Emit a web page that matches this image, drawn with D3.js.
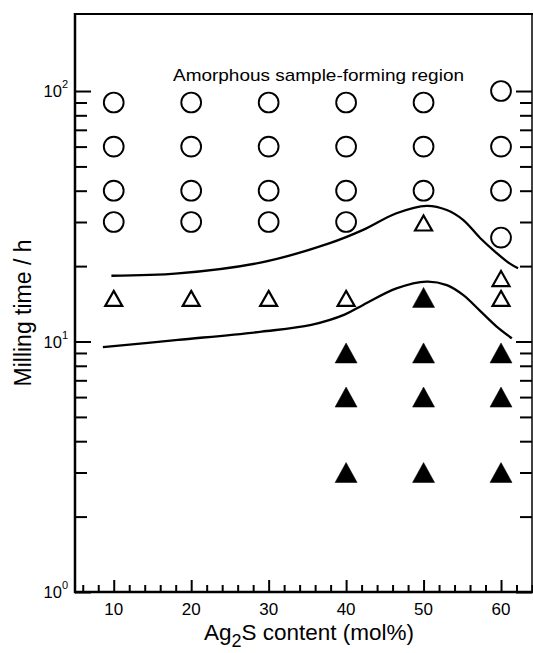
<!DOCTYPE html>
<html><head><meta charset="utf-8">
<script src="https://cdn.jsdelivr.net/npm/d3@7"></script>
<style>body{margin:0;background:#fff}text{font-family:"Liberation Sans",Arial,Helvetica,sans-serif;fill:#000}</style>
</head><body>
<svg id="chart" width="533" height="653"></svg>
<script>
// ---- data ----
const xTickValues = [10, 20, 30, 40, 50, 60];
const yDecades = [1, 10, 100];
const yDecadeExponents = ["0", "1", "2"];
const amorphous = [
  [10,90],[10,60],[10,40],[10,30],
  [20,90],[20,60],[20,40],[20,30],
  [30,90],[30,60],[30,40],[30,30],
  [40,90],[40,60],[40,40],[40,30],
  [50,90],[50,60],[50,40],
  [60,100],[60,60],[60,40],[60,26]
];
const partial = [[10,15],[20,15],[30,15],[40,15],[50,30],[60,18],[60,15]];
const crystalline = [[40,9],[40,6],[40,3],[50,15],[50,9],[50,6],[50,3],[60,9],[60,6],[60,3]];
const upperBoundary = [[9.7,18.3],[18.3,18.7],[29.1,20.7],[37.9,24.7],[42.2,27.9],[46.5,32.5],[50.4,34.8],[53.0,33.5],[55.1,30.6],[57.3,25.9],[59.4,22.6],[61.1,20.5],[62.2,19.6]];
const lowerBoundary = [[8.6,9.5],[18.3,10.15],[29.1,10.95],[35.5,11.65],[39.8,12.8],[42.2,14.0],[46.5,16.3],[50.4,17.35],[53.0,16.8],[55.1,15.35],[57.3,13.25],[59.4,11.5],[61.4,10.3]];
const regionLabel = "Amorphous sample-forming region";
const xLabelParts = ["Ag", "2", "S content (mol%)"];
const yLabel = "Milling time / h";

// ---- layout ----
const L = 75, R = 532, T = 14, B = 592;
const svg = d3.select("#chart");
const x = d3.scaleLinear().domain([5, 64]).range([L, R]);
const y = d3.scaleLog().domain([1, 203]).range([B, T]);

// minor ticks
const xMinor = d3.range(6, 64.01, 2).filter(v => v % 10 !== 0);
const yMinor = [];
[1, 10].forEach(d => { for (let k = 2; k <= 9; k++) yMinor.push(d * k); });

function styleAxis(g) {
  g.select(".domain").remove();
  g.selectAll(".tick line").attr("stroke", "#000").attr("stroke-width", 2);
  g.selectAll(".tick text").remove();
}
// bottom (ticks up)
svg.append("g").attr("transform", `translate(0,${B})`)
  .call(d3.axisTop(x).tickValues(xTickValues).tickSize(12).tickFormat("")).call(styleAxis);
svg.append("g").attr("transform", `translate(0,${B})`)
  .call(d3.axisTop(x).tickValues(xMinor).tickSize(7).tickFormat("")).call(styleAxis);
// left (ticks right)
svg.append("g").attr("transform", `translate(${L},0)`)
  .call(d3.axisRight(y).tickValues(yDecades).tickSize(16).tickFormat("")).call(styleAxis);
svg.append("g").attr("transform", `translate(${L},0)`)
  .call(d3.axisRight(y).tickValues(yMinor).tickSize(12).tickFormat("")).call(styleAxis);
// right (ticks left)
svg.append("g").attr("transform", `translate(${R},0)`)
  .call(d3.axisLeft(y).tickValues(yDecades).tickSize(16).tickFormat("")).call(styleAxis);
svg.append("g").attr("transform", `translate(${R},0)`)
  .call(d3.axisLeft(y).tickValues(yMinor).tickSize(12).tickFormat("")).call(styleAxis);

// frame
svg.append("line").attr("x1", L).attr("x2", L).attr("y1", T - 1).attr("y2", B + 1.25).attr("stroke", "#000").attr("stroke-width", 2.5);
svg.append("line").attr("x1", L).attr("x2", R + 1).attr("y1", B).attr("y2", B).attr("stroke", "#000").attr("stroke-width", 2.5);
svg.append("line").attr("x1", L).attr("x2", R + 1).attr("y1", T).attr("y2", T).attr("stroke", "#000").attr("stroke-width", 2.2);
svg.append("line").attr("x1", R).attr("x2", R).attr("y1", T).attr("y2", B).attr("stroke", "#000").attr("stroke-width", 1.5);

// x tick labels
svg.append("g").selectAll("text").data(xTickValues).join("text")
  .attr("x", d => x(d)).attr("y", 615).attr("text-anchor", "middle")
  .attr("font-size", 17).text(d => d);

// y tick labels
const yl = svg.append("g").selectAll("text").data(yDecades).join("text")
  .attr("x", 68).attr("y", d => y(d) + 6).attr("text-anchor", "end").attr("font-size", 16.5);
yl.append("tspan").text("10");
yl.append("tspan").attr("dy", -9).attr("font-size", 11).text((d, i) => yDecadeExponents[i]);

// axis titles
const xt = svg.append("text").attr("x", 309).attr("y", 640).attr("text-anchor", "middle").attr("font-size", 22.5);
xt.append("tspan").text(xLabelParts[0]);
xt.append("tspan").attr("dy", 7).attr("font-size", 18).text(xLabelParts[1]);
xt.append("tspan").attr("dy", -7).text(xLabelParts[2]);

svg.append("text").attr("transform", "translate(31,313) rotate(-90)")
  .attr("text-anchor", "middle").attr("font-size", 23).text(yLabel);

// region label
svg.append("text").attr("x", 173).attr("y", 81).attr("font-size", 17)
  .attr("textLength", 291).attr("lengthAdjust", "spacingAndGlyphs").text(regionLabel);

// boundary curves
const line = d3.line().x(d => x(d[0])).y(d => y(d[1])).curve(d3.curveCatmullRom.alpha(0.5));
[upperBoundary, lowerBoundary].forEach(b => {
  svg.append("path").attr("d", line(b)).attr("fill", "none").attr("stroke", "#000").attr("stroke-width", 2.3);
});

// markers
svg.append("g").selectAll("circle").data(amorphous).join("circle")
  .attr("cx", d => x(d[0])).attr("cy", d => y(d[1])).attr("r", 9.9)
  .attr("fill", "#fff").attr("stroke", "#000").attr("stroke-width", 1.9);

function tri(w, h) { return `M0,${-h/2}L${w/2},${h/2}L${-w/2},${h/2}Z`; }
svg.append("g").selectAll("path").data(partial).join("path")
  .attr("transform", d => `translate(${x(d[0])},${y(d[1]) + 1})`)
  .attr("d", tri(17, 15)).attr("fill", "#fff").attr("stroke", "#000").attr("stroke-width", 2.2);
svg.append("g").selectAll("path").data(crystalline).join("path")
  .attr("transform", d => `translate(${x(d[0])},${y(d[1])})`)
  .attr("d", tri(22, 20)).attr("fill", "#000").attr("stroke", "#000").attr("stroke-width", 0.5);
</script>
</body></html>
